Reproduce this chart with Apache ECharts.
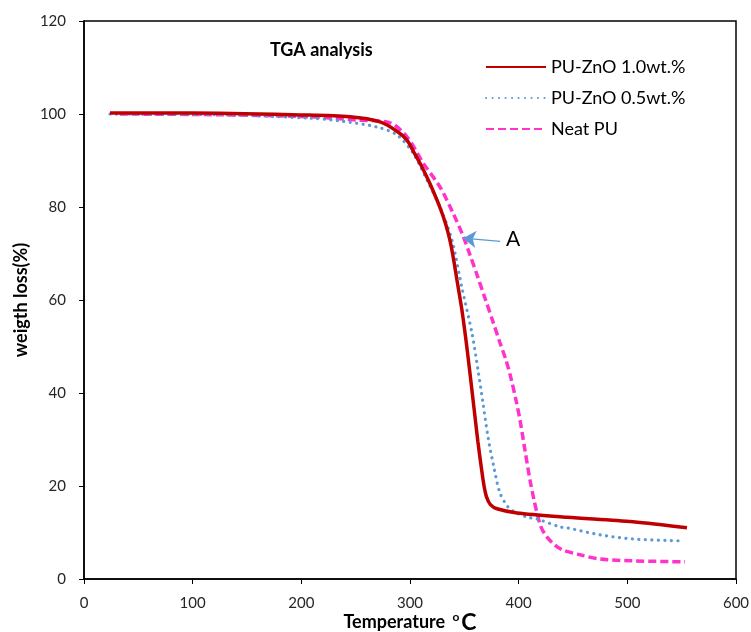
<!DOCTYPE html>
<html>
<head>
<meta charset="utf-8">
<script src="https://cdn.jsdelivr.net/npm/echarts@6/dist/echarts.min.js"></script>
<style>
  html, body { margin: 0; padding: 0; background: #fff; }
  #chart { width: 751px; height: 632px; }
</style>
</head>
<body>
<div id="chart"></div>
<script>
// TGA curves: [temperature (°C), residual weight (%)]
const seriesNames = ['PU-ZnO 1.0wt.%', 'PU-ZnO 0.5wt.%', 'Neat PU'];

const znO10 = [
  [23.9,100.2],[99.4,100.2],[198.8,99.8],[244.8,99.4],[272.4,98.3],[288.0,96.3],
  [297.2,94.4],[304.0,91.6],[311.0,88.6],[318.0,85.2],[324.8,81.5],[328.5,79.3],
  [332.2,76.8],[335.0,74.5],[337.7,71.8],[340.5,68.2],[343.2,64.3],[347.8,57.8],
  [351.5,51.4],[354.3,46.0],[357.0,40.6],[360.7,33.1],[362.5,29.5],[365.5,24.2],
  [368.0,20.2],[370.5,17.6],[374.0,16.0],[380.1,15.1],[398.5,14.2],[444.5,13.3],
  [505.2,12.3],[554.9,11.0]
];

const znO05 = [
  [23.9,100.0],[99.4,99.9],[134.4,99.8],[208.0,99.1],[235.6,98.5],[269.6,97.2],
  [288.0,95.5],[302.8,91.6],[315.6,85.8],[327.6,80.0],[338.6,72.9],[347.8,62.6],
  [357.0,52.9],[362.6,44.9],[367.2,37.8],[371.8,30.5],[377.3,23.9],[382.8,18.5],
  [390.2,15.5],[396.6,14.4],[407.7,13.3],[416.9,12.9],[438.0,11.2],[444.5,11.0],
  [474.8,9.5],[505.2,8.6],[551.2,8.2]
];

const neatPU = [
  [33.0,100.0],[99.4,99.9],[160.0,99.7],[208.0,99.4],[251.0,98.7],[281.6,98.1],
  [297.2,95.1],[312.0,89.5],[327.6,84.3],[339.6,78.7],[348.8,73.8],[355.2,69.7],
  [361.7,65.4],[369.0,60.4],[376.4,55.3],[382.8,50.8],[388.3,47.1],[392.9,43.2],
  [397.5,38.5],[401.2,34.2],[405.8,27.7],[410.4,21.3],[414.1,17.0],[416.9,14.2],
  [420.5,11.2],[426.1,9.0],[433.4,7.3],[440.8,6.2],[456.4,5.2],[474.8,4.3],
  [505.2,3.9],[553.1,3.7]
];

// Annotation "A": arrow from the label toward the Neat PU curve
const arrowFrom = [383, 72.6];
const arrowTo = [348.8, 73.3];
const labelA = [395, 73.1];

const xTicks = { min: 0, max: 600, interval: 100 };
const yTicks = { min: 0, max: 120, interval: 20 };

const chart = echarts.init(document.getElementById('chart'), null, { renderer: 'canvas' });

const baseFont = 'Lato, "Open Sans", sans-serif';

chart.setOption({
  animation: false,
  backgroundColor: '#fff',
  title: {
    text: 'TGA analysis',
    left: 265,
    top: 36,
    textStyle: { fontFamily: baseFont, fontSize: 18, fontWeight: 'bold', color: '#000' }
  },
  legend: {
    orient: 'vertical',
    left: 480,
    top: 52,
    itemWidth: 60,
    itemHeight: 14,
    itemGap: 11,
    itemStyle: { opacity: 0 },
    textStyle: { fontFamily: baseFont, fontSize: 18, color: '#000', lineHeight: 20 },
    data: seriesNames
  },
  grid: {
    left: 84, right: 15, top: 21, bottom: 53,
    outerBoundsMode: 'none',
    containLabel: false,
    show: true, borderColor: '#000', borderWidth: 1.5
  },
  xAxis: {
    type: 'value',
    min: xTicks.min, max: xTicks.max, interval: xTicks.interval,
    name: 'Temperature {sup|o}{c|C}',
    nameLocation: 'middle',
    nameGap: 32,
    nameMoveOverlap: false,
    nameTextStyle: {
      fontFamily: baseFont, fontSize: 18, fontWeight: 'bold', color: '#000',
      rich: {
        sup: { fontFamily: baseFont, fontSize: 12, color: '#000', verticalAlign: 'top', padding: [0, 2, 8, 3] },
        c: { fontFamily: baseFont, fontSize: 23, fontWeight: 'bold', color: '#000' }
      }
    },
    axisLine: { show: true, lineStyle: { color: '#000', width: 1.5 } },
    axisTick: { show: true, length: 5, lineStyle: { color: '#000', width: 1 } },
    axisLabel: { margin: 17, fontFamily: baseFont, fontSize: 15, color: '#262626' },
    splitLine: { show: false }
  },
  yAxis: {
    type: 'value',
    min: yTicks.min, max: yTicks.max, interval: yTicks.interval,
    name: 'weigth loss(%)',
    nameLocation: 'middle',
    nameGap: 54,
    nameRotate: 90,
    nameMoveOverlap: false,
    nameTextStyle: { fontFamily: baseFont, fontSize: 18, fontWeight: 'bold', color: '#000' },
    axisLine: { show: true, lineStyle: { color: '#000', width: 1.5 } },
    axisTick: { show: true, length: 5, lineStyle: { color: '#000', width: 1 } },
    axisLabel: { margin: 18, fontFamily: baseFont, fontSize: 15, color: '#262626' },
    splitLine: { show: false }
  },
  series: [
    {
      name: seriesNames[0],
      type: 'line',
      data: znO10,
      symbol: 'none',
      smooth: 0.3,
      z: 4,
      lineStyle: { color: '#C00000', width: 3.5 },
      itemStyle: { color: '#C00000' }
    },
    {
      name: seriesNames[1],
      type: 'line',
      data: znO05,
      symbol: 'none',
      smooth: 0.3,
      z: 3,
      lineStyle: { color: '#5B9BD5', width: 3.2, type: [0.1, 6.4], cap: 'round' },
      itemStyle: { color: '#5B9BD5' }
    },
    {
      name: seriesNames[2],
      type: 'line',
      data: neatPU,
      symbol: 'none',
      smooth: 0.3,
      z: 2,
      lineStyle: { color: '#FF33CC', width: 3.5, type: [8, 4] },
      itemStyle: { color: '#FF33CC' },
      markLine: {
        silent: true,
        z: 10,
        symbol: ['none', 'arrow'],
        symbolSize: 13,
        label: { show: false },
        lineStyle: { color: '#5B9BD5', width: 1.2, type: 'solid' },
        data: [[{ coord: arrowFrom }, { coord: arrowTo }]]
      },
      markPoint: {
        silent: true,
        symbol: 'circle',
        symbolSize: 0,
        label: {
          show: true,
          formatter: 'A',
          fontFamily: baseFont,
          fontSize: 21,
          color: '#000'
        },
        data: [{ coord: labelA }]
      }
    }
  ]
});
</script>
</body>
</html>
